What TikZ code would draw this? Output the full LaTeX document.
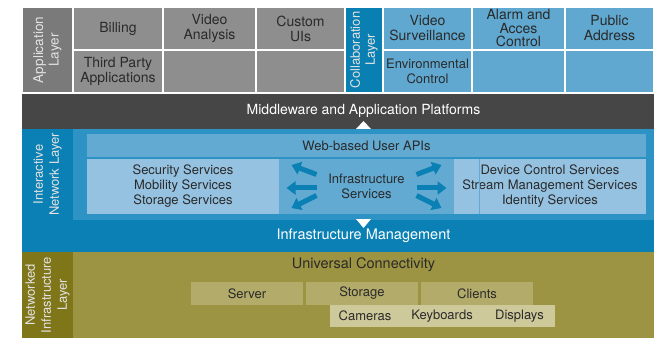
\documentclass[tikz,border=0pt]{standalone}
\usepackage{fontspec}
\setmainfont{TeX Gyre Heros}
\usetikzlibrary{positioning,calc,arrows.meta}

\definecolor{appgray}{HTML}{8E8E8E}
\definecolor{appdark}{HTML}{7A7A7A}
\definecolor{colblue}{HTML}{0A80B2}
\definecolor{cellblue}{HTML}{60A8D0}
\definecolor{mwgray}{HTML}{464646}
\definecolor{netblue}{HTML}{0A80B4}
\definecolor{innerblue}{HTML}{2C93C4}
\definecolor{apiblue}{HTML}{62AAD2}
\definecolor{svcblue}{HTML}{96C2E2}
\definecolor{olive}{HTML}{9C9442}
\definecolor{olivedark}{HTML}{7F7619}
\definecolor{olivebox}{HTML}{B3AB6A}
\definecolor{olivelight}{HTML}{CDC99A}
\definecolor{celltext}{HTML}{2A2A2A}
\definecolor{lbltext}{HTML}{E2E2E2}

\begin{document}
\begin{tikzpicture}[
                            x=1pt, y=-1pt,
                            >={Triangle[length=9pt,width=13pt]},
                            font=\fontsize{13}{15}\selectfont,
                            blk/.style={rectangle, anchor=north west, inner sep=0pt, outer sep=0pt, align=center, text=celltext},
                            sz/.style 2 args={minimum width=#1pt, minimum height=#2pt},
                            appcell/.style={blk, fill=appgray, draw=white, line width=1.5pt, font=\fontsize{14}{15}\selectfont},
                            colcell/.style={appcell, fill=cellblue},
                            layerlbl/.style={rectangle, inner sep=0pt, outer sep=0pt, rotate=90, align=center, text=lbltext, font=\fontsize{13.5}{15.5}\selectfont},
                            olbox/.style={blk, fill=olivebox}
                        ]
                        \useasboundingbox (0,0) rectangle (658,339);

                        % Middleware
                        \node [blk, fill=mwgray, sz={51}{36}] (mwpad) at (22,93) {};
                        \node [blk, fill=mwgray, sz={581}{36}, text=white, font=\fontsize{14}{15}\selectfont] (mw) at (73,93) {Middleware and Application Platforms};

                        % Application layer
                        \node [layerlbl, fill=appdark, draw=white, line width=1.5pt, minimum width=86pt, minimum height=51pt] (lblapp) at (47.5,50) {Application\\Layer};
                        \node [appcell, sz={90}{43}] (bill) at (73,7) {Billing};
                        \node [appcell, sz={93}{43}] (vana) at (163,7) {Video\\Analysis};
                        \node [appcell, sz={89}{43}] (cui) at (256,7) {Custom\\UIs};
                        \node [appcell, sz={90}{43}] (tpa) at (73,50) {Third Party\\Applications};
                        \node [appcell, sz={93}{43}] (ea1) at (163,50) {};
                        \node [appcell, sz={89}{43}] (ea2) at (256,50) {};

                        % Collaboration layer
                        \node [layerlbl, fill=colblue, draw=white, line width=1.5pt, minimum width=86pt, minimum height=38pt, font=\fontsize{13}{15}\selectfont] (lblcol) at (364,50) {Collaboration\\Layer};
                        \node [colcell, sz={89}{43}] (vsur) at (383,7) {Video\\Surveillance};
                        \node [colcell, sz={93}{43}, font=\fontsize{14}{13.5}\selectfont] (alarm) at (472,7) {Alarm and\\Acces\\Control};
                        \node [colcell, sz={89}{43}] (pa) at (565,7) {Public\\Address};
                        \node [colcell, sz={89}{43}, font=\fontsize{13}{15}\selectfont] (env) at (383,50) {Environmental\\Control};
                        \node [colcell, sz={93}{43}] (ec1) at (472,50) {};
                        \node [colcell, sz={89}{43}] (ec2) at (565,50) {};

                        \fill [white] ($(mw.south)+(-7.5,0)$) -- ($(mw.south)+(0,-8)$) -- ($(mw.south)+(7.5,0)$) -- cycle;

                        % Interactive network layer
                        \node [blk, fill=netblue, sz={632}{123}] (netbg) at (22,129) {};
                        \node [blk, fill=innerblue, sz={581}{91}] (netin) at (73,129) {};
                        \node [layerlbl, minimum width=91pt, minimum height=51pt, font=\fontsize{13}{16}\selectfont] (lblnet) at (47.5,174.5) {Interactive\\Network Layer};
                        \node [blk, fill=apiblue, sz={559}{23}] (api) at (87,134) {Web-based User APIs};
                        \node [blk, fill=svcblue, sz={192}{55}] (svcl) at (87,159) {Security Services\\Mobility Services\\Storage Services};
                        \node [blk, fill=apiblue, sz={175}{55}] (isv) at (279,159) {Infrastructure\\Services};
                        \node [blk, fill=svcblue, sz={192}{55}] (svcr) at (454,159) {Device Control Services\\Stream Management Services\\Identity Services};
                        \draw [apiblue, line width=0.6pt] ($(svcr.north west)+(25,0)$) -- ($(svcr.south west)+(25,0)$);
                        \node [blk, text=white, sz={581}{32}, font=\fontsize{14.5}{16}\selectfont] (imgmt) at (73,220) {Infrastructure Management};

                        \fill [white] ($(imgmt.north)+(-7.5,-1)$) -- ($(imgmt.north)+(7.5,-1)$) -- ($(imgmt.north)+(0,8)$) -- cycle;

                        % Arrows round the infrastructure services
                        \begin{scope}[line width=5pt, netblue]
                            \draw [->] ($(isv)+(-50,-12)$) -- ($(isv)+(-75,-21.5)$);
                            \draw [->] ($(isv)+(-50,1.5)$) -- ($(isv)+(-80,1.5)$);
                            \draw [->] ($(isv)+(-50,9)$) -- ($(isv)+(-75,21.5)$);
                            \draw [->] ($(isv)+(50,-12)$) -- ($(isv)+(75,-21.5)$);
                            \draw [->] ($(isv)+(50,1.5)$) -- ($(isv)+(80,1.5)$);
                            \draw [->] ($(isv)+(50,9)$) -- ($(isv)+(75,21.5)$);
                        \end{scope}

                        % Networked infrastructure layer
                        \node [blk, fill=olive, sz={581}{86}] (nibg) at (73,252) {};
                        \node [layerlbl, fill=olivedark, minimum width=86pt, minimum height=51pt, font=\fontsize{13}{16}\selectfont] (lblni) at (47.5,295) {Networked\\Infrastructure\\Layer};
                        \node [text=celltext, inner sep=0pt, font=\fontsize{14.5}{16}\selectfont] (uc) at (363.5,265) {Universal Connectivity};
                        \node [olbox, sz={112}{23}] (server) at (191,282) {Server};
                        \node [olbox, sz={112}{23}, right=3pt of server] (storage) {Storage};
                        \node [olbox, sz={112}{23}, right=3pt of storage] (clients) {Clients};
                        \node [blk, fill=olivelight, sz={70}{22}] (cams) at (330,305) {Cameras};
                        \node [blk, fill=olivelight, sz={84}{22}, right=0pt of cams] (keyb) {Keyboards};
                        \node [blk, fill=olivelight, sz={71}{22}, right=0pt of keyb] (disp) {Displays};
                    \end{tikzpicture}
\end{document}
